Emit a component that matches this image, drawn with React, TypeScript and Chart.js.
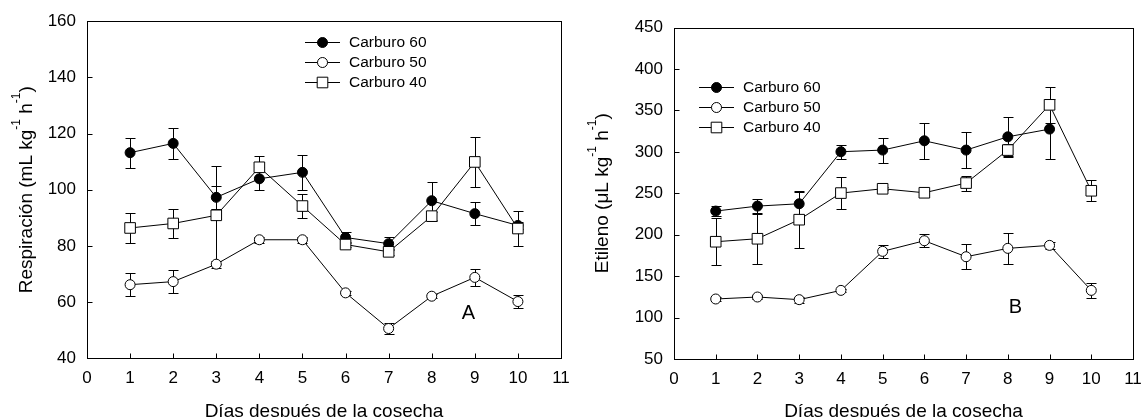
import React, { useEffect, useRef } from 'react';
import { Chart, registerables } from 'chart.js';

Chart.register(...registerables);

const FONT = "'Liberation Sans', Arial, Helvetica, sans-serif";

// Shared categories
const days = [1, 2, 3, 4, 5, 6, 7, 8, 9, 10];
const seriesNames = ['Carburo 60', 'Carburo 50', 'Carburo 40'];
const xTickMin = 0;
const xTickMax = 11;
const xTitle = 'Días después de la cosecha';

// Panel A: Respiración (mL kg-1 h-1)
const respC60 = [113.2, 116.5, 97.3, 103.9, 106.2, 83.0, 80.8, 96.1, 91.5, 87.3];
const respC60Err = [5.3, 5.4, 4.1, 4.1, 6.2, 2.0, 2.4, 6.7, 4.0, 1.2];
const respC50 = [66.2, 67.3, 73.5, 82.2, 82.2, 63.3, 50.6, 62.1, 68.8, 60.2];
const respC50Err = [4.1, 4.2, 1.2, 1.0, 1.0, 0.6, 2.1, 0.8, 3.0, 2.4];
const respC40 = [86.4, 88.0, 90.9, 108.0, 94.2, 80.5, 77.9, 90.6, 109.9, 86.2];
const respC40Err = [5.2, 5.3, 17.5, 4.1, 4.3, 1.0, 1.0, 1.6, 8.8, 6.4];
const respYMin = 40;
const respYMax = 160;
const respYStep = 20;
const respTitleParts = [
  { text: 'Respiración (mL kg', sup: false },
  { text: '-1', sup: true },
  { text: ' h', sup: false },
  { text: '-1', sup: true },
  { text: ')', sup: false },
];

// Panel B: Etileno (µL kg-1 h-1)
const etiC60 = [228.5, 234.5, 237.3, 300.1, 302.1, 313.3, 302.1, 318.1, 327.4, null];
const etiC60Err = [6.5, 8.0, 15.0, 8.5, 15.0, 21.5, 21.5, 24.5, 36.0, 0];
const etiC50 = [122.4, 124.8, 121.6, 132.8, 179.9, 192.7, 173.4, 183.5, 187.1, 132.8];
const etiC50Err = [2.0, 2.0, 3.5, 2.0, 8.2, 8.0, 15.3, 18.5, 4.5, 9.2];
const etiC40 = [191.5, 195.1, 218.1, 250.2, 255.4, 250.6, 262.3, 302.1, 356.7, 253.0];
const etiC40Err = [28.5, 30.0, 34.0, 19.5, 2.0, 2.5, 9.0, 7.0, 22.0, 12.7];
const etiYMin = 50;
const etiYMax = 450;
const etiYStep = 50;
const etiTitleParts = [
  { text: 'Etileno (μL kg', sup: false },
  { text: '-1', sup: true },
  { text: ' h', sup: false },
  { text: '-1', sup: true },
  { text: ')', sup: false },
];

const markerStyles = [
  { style: 'circle', fill: '#000000', radius: 5 },
  { style: 'circle', fill: '#ffffff', radius: 5 },
  { style: 'rect', fill: '#ffffff', radius: 7.5 },
];

const TITLE_SIZE = 19;
const SUP_SIZE = 12;
const SUP_RISE = 12;

const frameAndTicks = {
  id: 'frameAndTicks',
  beforeDatasetsDraw(chart: any) {
    const { ctx, chartArea: a } = chart;
    const L = Math.round(a.left) + 0.5;
    const T = Math.round(a.top) + 0.5;
    const R = Math.round(a.right) + 0.5;
    const B = Math.round(a.bottom) + 0.5;
    ctx.save();
    ctx.strokeStyle = '#000';
    ctx.lineWidth = 1;
    ctx.strokeRect(L, T, R - L, B - T);
    ctx.beginPath();
    const xs = chart.scales.x;
    xs.ticks.forEach((t: any) => {
      const px = Math.round(xs.getPixelForValue(t.value)) + 0.5;
      ctx.moveTo(px, B);
      ctx.lineTo(px, B - 5);
    });
    const ys = chart.scales.y;
    ys.ticks.forEach((t: any) => {
      const py = Math.round(ys.getPixelForValue(t.value)) + 0.5;
      ctx.moveTo(L, py);
      ctx.lineTo(L + 5, py);
    });
    ctx.stroke();
    ctx.restore();
  },
};

const errorBars = {
  id: 'errorBars',
  beforeDatasetsDraw(chart: any) {
    const { ctx } = chart;
    const xs = chart.scales.x;
    const ys = chart.scales.y;
    ctx.save();
    ctx.strokeStyle = '#000';
    ctx.lineWidth = 1;
    chart.data.datasets.forEach((ds: any) => {
      ds.data.forEach((p: any, j: number) => {
        const e = ds.errors[j];
        if (p.y == null || !e) return;
        const px = Math.round(xs.getPixelForValue(p.x)) + 0.5;
        const t = Math.round(ys.getPixelForValue(p.y + e)) + 0.5;
        const b = Math.round(ys.getPixelForValue(p.y - e)) + 0.5;
        ctx.beginPath();
        ctx.moveTo(px, t);
        ctx.lineTo(px, b);
        ctx.moveTo(px - 5, t);
        ctx.lineTo(px + 5, t);
        ctx.moveTo(px - 5, b);
        ctx.lineTo(px + 5, b);
        ctx.stroke();
      });
    });
    ctx.restore();
  },
};

const decorations = {
  id: 'decorations',
  afterDraw(chart: any) {
    const { ctx, chartArea: a } = chart;
    const o = chart.options.plugins.decorations;
    ctx.save();
    ctx.strokeStyle = '#000';
    ctx.lineWidth = 1;
    // legend
    ctx.font = `${o.legendSize}px ${FONT}`;
    ctx.textBaseline = 'middle';
    ctx.textAlign = 'left';
    seriesNames.forEach((name, i) => {
      const y = o.rowY[i] + 0.5;
      ctx.beginPath();
      ctx.moveTo(o.lineX0, y);
      ctx.lineTo(o.lineX1, y);
      ctx.stroke();
      const m = markerStyles[i];
      const cx = (o.lineX0 + o.lineX1) / 2;
      ctx.fillStyle = m.fill;
      ctx.beginPath();
      if (m.style === 'circle') {
        ctx.arc(cx, y, m.radius, 0, Math.PI * 2);
      } else {
        const s = m.radius * Math.SQRT1_2;
        ctx.rect(cx - s, y - s, 2 * s, 2 * s);
      }
      ctx.fill();
      ctx.stroke();
      ctx.fillStyle = '#000';
      ctx.fillText(name, o.textX, y + 0.5);
    });
    // panel letter
    const xs = chart.scales.x;
    const ys = chart.scales.y;
    ctx.font = `20px ${FONT}`;
    ctx.textAlign = 'center';
    ctx.textBaseline = 'middle';
    ctx.fillStyle = '#000';
    ctx.fillText(o.letter, xs.getPixelForValue(o.letterX), ys.getPixelForValue(o.letterY));
    // x title
    ctx.font = `${TITLE_SIZE}px ${FONT}`;
    ctx.textBaseline = 'alphabetic';
    ctx.textAlign = 'center';
    ctx.fillText(xTitle, (a.left + a.right) / 2, o.xTitleBaseline);
    // y title (rotated, with superscripts)
    const parts = o.yTitleParts as { text: string; sup: boolean }[];
    const widths = parts.map((p) => {
      ctx.font = `${p.sup ? SUP_SIZE : TITLE_SIZE}px ${FONT}`;
      return ctx.measureText(p.text).width;
    });
    const total = widths.reduce((s, w) => s + w, 0);
    ctx.translate(o.yTitleBaseline, (a.top + a.bottom) / 2);
    ctx.rotate(-Math.PI / 2);
    ctx.textAlign = 'left';
    let cur = -total / 2;
    parts.forEach((p, i) => {
      ctx.font = `${p.sup ? SUP_SIZE : TITLE_SIZE}px ${FONT}`;
      ctx.fillText(p.text, cur, p.sup ? -SUP_RISE : 0);
      cur += widths[i];
    });
    ctx.restore();
  },
};

type PanelCfg = {
  left: number;
  width: number;
  height: number;
  yAxisW: number;
  xAxisH: number;
  padRight: number;
  padTop: number;
  padBottom: number;
  yMin: number;
  yMax: number;
  yStep: number;
  values: (number | null)[][];
  errors: number[][];
  deco: any;
};

function Panel({ cfg }: { cfg: PanelCfg }) {
  const ref = useRef<HTMLCanvasElement>(null);
  useEffect(() => {
    if (!ref.current) return;
    const chart = new Chart(ref.current, {
      type: 'line',
      data: {
        datasets: seriesNames.map((name, i) => ({
          label: name,
          data: days.map((d, j) => ({ x: d, y: cfg.values[i][j] })),
          errors: cfg.errors[i],
          borderColor: '#000',
          borderWidth: 1,
          backgroundColor: markerStyles[i].fill,
          pointBackgroundColor: markerStyles[i].fill,
          pointBorderColor: '#000',
          pointBorderWidth: 1,
          pointStyle: markerStyles[i].style,
          pointRadius: markerStyles[i].radius,
          pointHoverRadius: markerStyles[i].radius,
          tension: 0,
          spanGaps: false,
          order: 3 - i,
        })) as any,
      },
      options: {
        responsive: false,
        animation: false,
        devicePixelRatio: 1,
        events: [],
        layout: { padding: { left: 0, right: cfg.padRight, top: cfg.padTop, bottom: cfg.padBottom } },
        plugins: {
          legend: { display: false },
          tooltip: { enabled: false },
          decorations: cfg.deco,
        } as any,
        scales: {
          x: {
            type: 'linear',
            min: xTickMin,
            max: xTickMax,
            ticks: { stepSize: 1, color: '#000', font: { family: FONT, size: 17 }, padding: 10 },
            grid: { display: false, drawTicks: false },
            border: { display: false },
            afterFit: (s: any) => { s.height = cfg.xAxisH; },
          },
          y: {
            type: 'linear',
            min: cfg.yMin,
            max: cfg.yMax,
            ticks: { stepSize: cfg.yStep, color: '#000', font: { family: FONT, size: 17 }, padding: 11 },
            grid: { display: false, drawTicks: false },
            border: { display: false },
            afterFit: (s: any) => { s.width = cfg.yAxisW; },
          },
        },
      } as any,
      plugins: [frameAndTicks, errorBars, decorations],
    });
    return () => chart.destroy();
  }, []);
  return (
    <canvas
      ref={ref}
      width={cfg.width}
      height={cfg.height}
      style={{ position: 'absolute', left: cfg.left, top: 0, width: cfg.width, height: cfg.height }}
    />
  );
}

const panelA: PanelCfg = {
  left: 0,
  width: 580,
  height: 417,
  yAxisW: 87,
  xAxisH: 40,
  padRight: 19,
  padTop: 18.3,
  padBottom: 18.7,
  yMin: respYMin,
  yMax: respYMax,
  yStep: respYStep,
  values: [respC60, respC50, respC40],
  errors: [respC60Err, respC50Err, respC40Err],
  deco: {
    lineX0: 305, lineX1: 340, textX: 349, rowY: [42, 62, 82], legendSize: 15.5,
    letter: 'A', letterX: 8.85, letterY: 56,
    xTitleBaseline: 417, yTitleBaseline: 31.5, yTitleParts: respTitleParts,
  },
};

const panelB: PanelCfg = {
  left: 580,
  width: 580,
  height: 417,
  yAxisW: 94,
  xAxisH: 40,
  padRight: 27,
  padTop: 27.5,
  padBottom: 18,
  yMin: etiYMin,
  yMax: etiYMax,
  yStep: etiYStep,
  values: [etiC60, etiC50, etiC40],
  errors: [etiC60Err, etiC50Err, etiC40Err],
  deco: {
    lineX0: 119, lineX1: 154, textX: 163, rowY: [87, 107, 127], legendSize: 15.5,
    letter: 'B', letterX: 8.18, letterY: 111.6,
    xTitleBaseline: 417, yTitleBaseline: 28, yTitleParts: etiTitleParts,
  },
};

export default function App() {
  return (
    <div style={{ position: 'absolute', left: 0, top: 0, width: 1144, height: 417, overflow: 'hidden', background: '#fff' }}>
      <Panel cfg={panelA} />
      <Panel cfg={panelB} />
    </div>
  );
}
